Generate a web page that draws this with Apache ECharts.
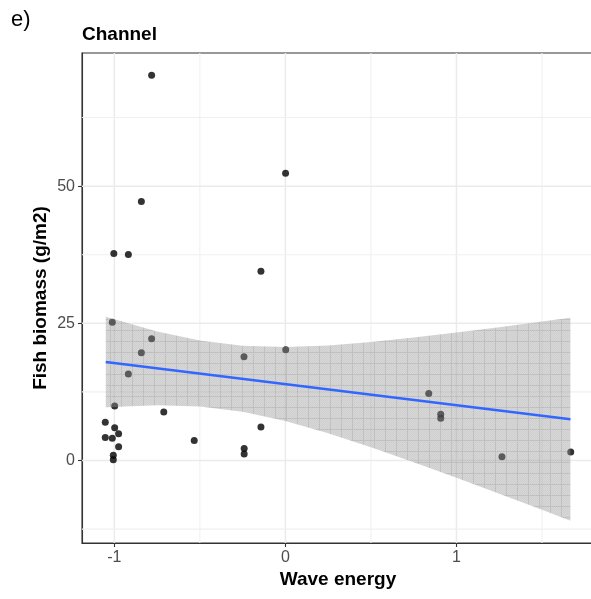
<!DOCTYPE html>
<html>
<head>
<meta charset="utf-8">
<script src="https://cdn.jsdelivr.net/npm/echarts@6/dist/echarts.min.js"></script>
<style>
html,body{margin:0;padding:0;background:#fff}
#chart{width:591px;height:599px}
</style>
</head>
<body>
<div id="chart"></div>
<script>
// Observations: wave energy (x) against fish biomass (y)
const waveEnergy = [-1.012, -0.782, -0.842, -0.918, -0.998, -0.711, -1.053, -0.998, -0.975, -1.053,
  -1.012, -0.975, -1.006, -1.006, -0.533, -0.242, 0.002, -0.143, -0.241, -0.241,
  -0.782, 0.001, -0.842, -1.003, -0.918, -0.143, 0.838, 0.908, 0.908, 1.266, 1.668];
const fishBiomass = [25.18, 22.2, 19.65, 15.77, 9.95, 8.86, 6.98, 5.95, 4.86, 4.2,
  4.05, 2.5, 0.95, 0.15, 3.64, 18.93, 20.2, 6.13, 2.2, 1.2,
  70.2, 52.35, 47.2, 37.74, 37.55, 34.5, 12.2, 8.44, 7.7, 0.67, 1.53];

// Linear fit and its confidence band
const fitX = [-1.05, 1.666];
const fitY = [17.96, 7.53];
const bandX = [-1.05, -0.75, -0.5, -0.25, 0, 0.25, 0.5, 0.75, 1.0, 1.25, 1.5, 1.666];
const bandUpper = [26.21, 23.53, 21.86, 20.91, 20.68, 20.98, 21.59, 22.40, 23.31, 24.30, 25.33, 26.03];
const bandLower = [9.71, 10.09, 9.84, 8.87, 7.18, 4.96, 2.43, -0.30, -3.13, -6.04, -8.99, -10.97];

// Axis extents, labelled ticks and minor grid positions
const xRange = [-1.189, 1.804];
const yRange = [-15.03, 74.26];
const xTicks = [-1, 0, 1];
const yTicks = [0, 25, 50];
const xMinor = [-0.5, 0.5, 1.5];
const yMinor = [-12.5, 12.5, 37.5, 62.5];

const FONT = '"Liberation Sans", Arial, Helvetica, sans-serif';

// grid line definitions (major + minor, both directions)
const gridDefs = [
  ...xTicks.map(v => ({ dir: 'v', v, major: true })),
  ...xMinor.map(v => ({ dir: 'v', v, major: false })),
  ...yTicks.map(v => ({ dir: 'h', v, major: true })),
  ...yMinor.map(v => ({ dir: 'h', v, major: false }))
];

// fine grey texture for the confidence band
function makeBandPattern() {
  const s = 11;
  const c = document.createElement('canvas');
  c.width = s; c.height = s;
  const g = c.getContext('2d');
  g.fillStyle = 'rgba(153,153,153,0.39)';
  g.fillRect(0, 0, s, s);
  g.fillStyle = 'rgba(120,120,120,0.08)';
  for (let i = 0; i < s; i++) for (let j = 0; j < s; j++) if ((i + j) % 2 === 0) g.fillRect(i, j, 1, 1);
  g.fillStyle = 'rgba(110,110,110,0.18)';
  g.fillRect(0, 0, s, 1);
  g.fillRect(0, 1, 1, s - 1);
  return c;
}
const bandPattern = makeBandPattern();

const chart = echarts.init(document.getElementById('chart'), null, { renderer: 'canvas' });

const axisCommon = {
  type: 'value',
  axisLine: { show: true, onZero: false, lineStyle: { color: '#333333', width: 1.1 } },
  axisTick: { show: true, length: 4, lineStyle: { color: '#333333', width: 1.1 } },
  splitLine: { show: false },
  minorSplitLine: { show: false }
};

chart.setOption({
  animation: false,
  backgroundColor: '#ffffff',
  grid: {
    left: 82, width: 512, top: 53, bottom: 56,
    containLabel: false, outerBoundsMode: 'none',
    show: true, borderColor: '#333333', borderWidth: 1.1, backgroundColor: '#ffffff'
  },
  xAxis: Object.assign({}, axisCommon, {
    min: xRange[0], max: xRange[1],
    axisTick: Object.assign({}, axisCommon.axisTick, { customValues: xTicks }),
    axisLabel: { customValues: xTicks, color: '#4d4d4d', fontSize: 16, fontFamily: FONT, margin: 7 }
  }),
  yAxis: Object.assign({}, axisCommon, {
    min: yRange[0], max: yRange[1],
    axisTick: Object.assign({}, axisCommon.axisTick, { customValues: yTicks }),
    axisLabel: { customValues: yTicks, color: '#4d4d4d', fontSize: 16, fontFamily: FONT, margin: 7 }
  }),
  graphic: [
    { type: 'text', left: 11, top: 9, style: { text: 'e)', font: '22px ' + FONT, fill: '#000' } },
    { type: 'text', x: 82, y: 35, style: { text: 'Channel', font: 'bold 19px ' + FONT, fill: '#000', textVerticalAlign: 'middle' } },
    { type: 'text', x: 338, y: 580, style: { text: 'Wave energy', font: 'bold 19px ' + FONT, fill: '#000', textAlign: 'center', textVerticalAlign: 'middle' } },
    { type: 'text', x: 41, y: 298, rotation: Math.PI / 2, style: { text: 'Fish biomass (g/m2)', font: 'bold 19px ' + FONT, fill: '#000', textAlign: 'center', textVerticalAlign: 'middle' } }
  ],
  series: [
    {
      type: 'custom',
      z: 1,
      silent: true,
      data: gridDefs.map((d, i) => [i]),
      encode: { x: 0 },
      renderItem: function (params, api) {
        const g = gridDefs[params.dataIndex];
        let p1, p2;
        if (g.dir === 'v') {
          p1 = api.coord([g.v, yRange[0]]); p2 = api.coord([g.v, yRange[1]]);
        } else {
          p1 = api.coord([xRange[0], g.v]); p2 = api.coord([xRange[1], g.v]);
        }
        return {
          type: 'line',
          shape: { x1: p1[0], y1: p1[1], x2: p2[0], y2: p2[1] },
          style: { stroke: g.major ? '#ebebeb' : '#f0f0f0', lineWidth: g.major ? 1.5 : 1.1 }
        };
      }
    },
    {
      type: 'scatter',
      z: 2,
      symbol: 'circle',
      symbolSize: 7,
      itemStyle: { color: '#000000' },
      data: waveEnergy.map((x, i) => [x, fishBiomass[i]])
    },
    {
      type: 'custom',
      z: 3,
      silent: true,
      data: [[bandX[0], bandUpper[0]]],
      renderItem: function (params, api) {
        const upper = bandX.map((x, i) => api.coord([x, bandUpper[i]]));
        const lower = bandX.map((x, i) => api.coord([x, bandLower[i]])).reverse();
        return {
          type: 'polygon',
          shape: { points: upper.concat(lower) },
          style: { fill: { image: bandPattern, repeat: 'repeat' } }
        };
      }
    },
    {
      type: 'line',
      z: 4,
      symbol: 'none',
      silent: true,
      lineStyle: { color: '#3366FF', width: 2.6 },
      data: fitX.map((x, i) => [x, fitY[i]])
    }
  ]
});
</script>
</body>
</html>
